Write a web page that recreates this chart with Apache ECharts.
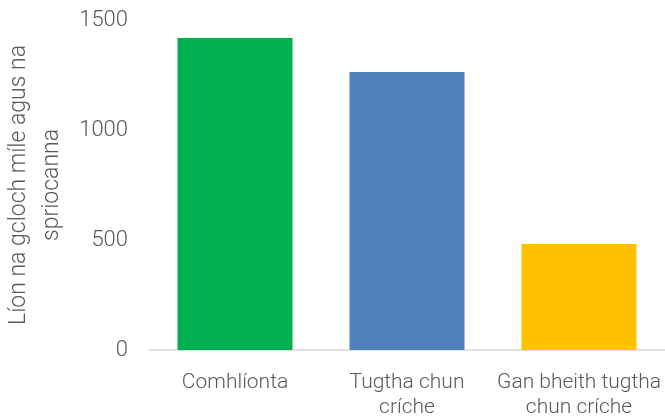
<!DOCTYPE html>
<html><head><meta charset="utf-8">
<script src="https://cdn.jsdelivr.net/npm/echarts@6/dist/echarts.min.js"></script>
<style>html,body{margin:0;padding:0;background:#fff}#c{width:665px;height:418px}</style>
</head><body><div id="c"></div>
<script>
const categories = ['Comhlíonta', 'Tugtha chun\ncríche', 'Gan bheith tugtha\nchun críche'];
const values = [1418, 1264, 482];
const colors = ['#00AF50', '#4F81BD', '#FFC000'];
const yTicks = [0, 500, 1000, 1500];
const yTitle = 'Líon na gcloch míle agus na\nspriocanna';

const FONT = 'Roboto';
const chart = echarts.init(document.getElementById('c'));
chart.setOption({
  animation: false,
  grid: { left: 149, right: 0, top: 20, bottom: 68, containLabel: false, outerBoundsMode: 'none' },
  xAxis: {
    type: 'category',
    data: categories,
    axisLine: { lineStyle: { color: '#d9d9d9', width: 1.5 } },
    axisTick: { show: false },
    axisLabel: { interval: 0, color: '#595959', fontSize: 21, fontFamily: FONT, fontWeight: 300, margin: 20, lineHeight: 25 }
  },
  yAxis: {
    type: 'value',
    min: yTicks[0], max: yTicks[yTicks.length - 1], interval: 500,
    splitLine: { show: false },
    axisLine: { show: false },
    axisTick: { show: false },
    axisLabel: { color: '#595959', fontSize: 22, fontFamily: FONT, fontWeight: 300, margin: 21, formatter: v => String(v) },
    name: yTitle,
    nameLocation: 'middle',
    nameGap: 77,
    nameRotate: 90,
    nameTextStyle: { color: '#595959', fontSize: 23, fontFamily: FONT, fontWeight: 300, lineHeight: 33, align: 'center' }
  },
  series: [{
    type: 'bar',
    data: values.map((v, i) => ({ value: v, itemStyle: { color: colors[i] } })),
    barWidth: 115
  }]
});
</script></body></html>
